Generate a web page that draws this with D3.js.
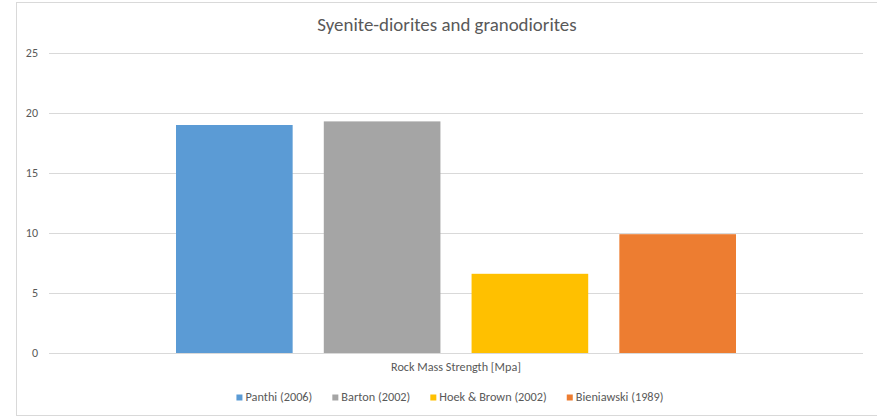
<!DOCTYPE html>
<html>
<head>
<meta charset="utf-8">
<script src="https://cdn.jsdelivr.net/npm/d3@7"></script>
<style>
  html, body { margin: 0; padding: 0; background: #fff; }
  svg { display: block; font-family: Carlito, Calibri, Lato, "Open Sans", sans-serif; }
</style>
</head>
<body>
<svg id="chart" width="877" height="417"></svg>
<script>
// Chart data
const title = "Syenite-diorites and granodiorites";
const category = "Rock Mass Strength [Mpa]";
const seriesNames = ["Panthi (2006)", "Barton (2002)", "Hoek & Brown (2002)", "Bieniawski (1989)"];
const seriesValues = [19.0, 19.3, 6.6, 9.9];
const seriesColors = ["#5B9BD5", "#A5A5A5", "#FFC000", "#ED7D31"];
const yTicks = [0, 5, 10, 15, 20, 25];

const svg = d3.select("#chart");
const W = 877, H = 417;
const FONT = "Carlito, Calibri, Lato, 'Open Sans', sans-serif";

// Outer chart-area frame
svg.append("rect")
  .attr("x", 16.5).attr("y", 2.5)
  .attr("width", W - 16 + 10).attr("height", 413)
  .attr("fill", "#fff").attr("stroke", "#d9d9d9").attr("stroke-width", 1);

const plot = { left: 49, right: 863, top: 53, bottom: 353 };

const y = d3.scaleLinear().domain([0, 25]).range([plot.bottom, plot.top]);

// One category band, with the four series side by side inside it
const x0 = d3.scaleBand().domain([category])
  .range([plot.left, plot.right]).paddingInner(0).paddingOuter(0.2268);
const x1 = d3.scaleBand().domain(seriesNames)
  .range([0, x0.bandwidth()]).paddingInner(0.2107).paddingOuter(0);

// Gridlines and y tick labels
const yAxis = d3.axisLeft(y).tickValues(yTicks).tickSize(-(plot.right - plot.left)).tickPadding(11);
const gy = svg.append("g").attr("transform", `translate(${plot.left},0)`).call(yAxis);
gy.select(".domain").remove();
gy.selectAll(".tick line").attr("stroke", "#d9d9d9").attr("stroke-width", 1);
gy.selectAll(".tick text")
  .attr("fill", "#595959").style("font-size", "12px").style("font-family", FONT);

// Bars
svg.append("g").selectAll("rect")
  .data(seriesNames.map((n, i) => ({ name: n, value: seriesValues[i], color: seriesColors[i] })))
  .join("rect")
  .attr("x", d => x0(category) + x1(d.name))
  .attr("width", x1.bandwidth())
  .attr("y", d => y(d.value))
  .attr("height", d => y(0) - y(d.value))
  .attr("fill", d => d.color);

// Category axis label
const xAxis = d3.axisBottom(x0).tickSize(0).tickPadding(9);
const gx = svg.append("g").attr("transform", `translate(0,${plot.bottom})`).call(xAxis);
gx.select(".domain").remove();
gx.selectAll(".tick text")
  .attr("fill", "#595959").style("font-size", "12.2px").style("font-family", FONT);

// Title
svg.append("text")
  .attr("x", 447).attr("y", 31)
  .attr("text-anchor", "middle")
  .attr("fill", "#595959")
  .style("font-size", "18.9px")
  .text(title);

// Legend
const legend = svg.append("g");
const items = legend.selectAll("g").data(seriesNames).join("g");
items.append("rect").attr("width", 6).attr("height", 6).attr("y", -6.5)
  .attr("fill", (d, i) => seriesColors[i]);
items.append("text").attr("x", 9).attr("y", 0)
  .attr("fill", "#595959").style("font-size", "12.3px").text(d => d);
// Lay out entries left to right and centre the row
let cx = 0;
const gap = 20;
items.each(function () {
  const g = d3.select(this);
  const w = 9 + g.select("text").node().getComputedTextLength();
  g.attr("data-x", cx);
  cx += w + gap;
});
const totalW = cx - gap;
const startX = 450 - totalW / 2;
items.attr("transform", function () {
  return `translate(${startX + (+this.getAttribute("data-x"))},401)`;
});
</script>
</body>
</html>
